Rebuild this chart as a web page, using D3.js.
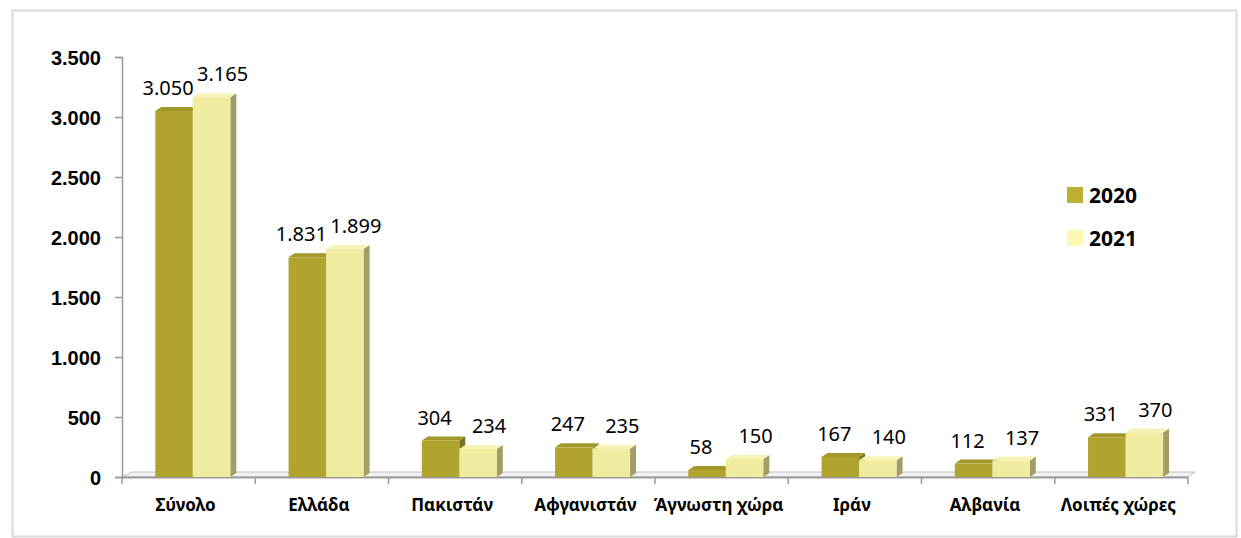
<!DOCTYPE html>
<html lang="el">
<head>
<meta charset="utf-8">
<title>2020 - 2021</title>
<script src="https://cdn.jsdelivr.net/npm/d3@7"></script>
<style>
  body { margin: 0; background: #fff; }
  svg { display: block; font-family: "Noto Sans", "DejaVu Sans", sans-serif; }
  .val { font-size: 20px; fill: #000; }
  .cat { font-size: 17px; font-weight: bold; fill: #000; }
  .ytick text { font-size: 20px; font-weight: bold; fill: #000; }
</style>
</head>
<body>
<div id="chart"></div>
<script>
// data
var categories = ["Σύνολο", "Ελλάδα", "Πακιστάν", "Αφγανιστάν", "Άγνωστη χώρα", "Ιράν", "Αλβανία", "Λοιπές χώρες"];
var years = ["2020", "2021"];
var values2020 = [3050, 1831, 304, 247, 58, 167, 112, 331];
var values2021 = [3165, 1899, 234, 235, 150, 140, 137, 370];
var yTicks = [0, 500, 1000, 1500, 2000, 2500, 3000, 3500];

var series = { "2020": values2020, "2021": values2021 };
var front = { "2020": "#b0a42e", "2021": "#efec9f" };
var topC = { "2020": "#a29729", "2021": "#f6f3b8" };
var side = { "2020": "#7c7321", "2021": "#a19d66" };
var legendC = { "2020": "#bbaf34", "2021": "#faf8b1" };

var W = 1241, H = 538;
var dx = 6, dy = -4; // 3d depth

var fmt = function (d) { return d3.format(",")(d).replace(/,/g, "."); };

var svg = d3.select("#chart").append("svg")
  .attr("width", W).attr("height", H);

// outer frame
svg.append("rect")
  .attr("x", 12.5).attr("y", 10.5)
  .attr("width", 1224).attr("height", 526)
  .attr("fill", "#fff")
  .attr("stroke", "#d9d9d9").attr("stroke-width", 2);

var y = d3.scaleLinear().domain([0, 3500]).range([477, 57]);
var x0 = d3.scaleBand().domain(categories).range([122, 1188]);
var x1 = d3.scaleBand().domain(years).range([0, 75]);
var groupOff = x0.bandwidth() * 0.25;

// floor
var fl = x0.range()[0], fr = x0.range()[1];
svg.append("path")
  .attr("d", "M" + fl + "," + y(0) + "L" + (fl + dx + 4) + "," + (y(0) + dy - 1) +
    "L" + (fr + dx + 1) + "," + (y(0) + dy - 1) + "L" + fr + "," + y(0) + "Z")
  .attr("fill", "#f2f2f2").attr("stroke", "#bfbfbf").attr("stroke-width", 1);
svg.append("line")
  .attr("x1", fl).attr("x2", fr)
  .attr("y1", y(0) + 0.5).attr("y2", y(0) + 0.5)
  .attr("stroke", "#9a9a9a").attr("stroke-width", 2);

// y axis
var yAxis = svg.append("g").attr("class", "ytick")
  .attr("transform", "translate(122,0)")
  .call(d3.axisLeft(y).tickValues(yTicks).tickSize(7).tickPadding(14).tickFormat(fmt));
yAxis.select(".domain").attr("stroke", "#9a9a9a").attr("stroke-width", 1.5);
yAxis.selectAll(".tick line").attr("stroke", "#9a9a9a").attr("stroke-width", 1.5);
yAxis.selectAll(".tick text").attr("dy", "0.35em");

// x ticks at category boundaries
svg.append("g").selectAll("line")
  .data(categories.concat(["end"]))
  .join("line")
  .attr("x1", function (d, i) { return i < categories.length ? x0(d) : fr; })
  .attr("x2", function (d, i) { return i < categories.length ? x0(d) : fr; })
  .attr("y1", y(0)).attr("y2", y(0) + 7)
  .attr("stroke", "#9a9a9a").attr("stroke-width", 1.5);

// bars
var bars = [];
categories.forEach(function (c, i) {
  years.forEach(function (yr) {
    bars.push({ cat: c, year: yr, value: series[yr][i] });
  });
});
var bw = x1.bandwidth();
var bg = svg.append("g").selectAll("g").data(bars).join("g");
bg.each(function (d) {
  var g = d3.select(this);
  var xl = x0(d.cat) + groupOff + x1(d.year);
  var yt = y(d.value), yb = y(0);
  // side
  g.append("path")
    .attr("d", "M" + (xl + bw) + "," + yb + "L" + (xl + bw + dx) + "," + (yb + dy) +
      "L" + (xl + bw + dx) + "," + (yt + dy) + "L" + (xl + bw) + "," + yt + "Z")
    .attr("fill", side[d.year]);
  // top
  g.append("path")
    .attr("d", "M" + xl + "," + yt + "L" + (xl + dx) + "," + (yt + dy) +
      "L" + (xl + bw + dx) + "," + (yt + dy) + "L" + (xl + bw) + "," + yt + "Z")
    .attr("fill", topC[d.year]);
  // front
  g.append("rect")
    .attr("x", xl).attr("y", yt)
    .attr("width", bw).attr("height", yb - yt)
    .attr("fill", front[d.year]);
  // value label
  g.append("text").attr("class", "val")
    .attr("x", xl + bw / 2 + (d.year === "2021" ? 11 : -6))
    .attr("y", yt - 16)
    .attr("text-anchor", "middle")
    .text(fmt(d.value));
});

// category labels
svg.append("g").selectAll("text")
  .data(categories).join("text")
  .attr("class", "cat")
  .attr("x", function (d) { return x0(d) + x0.bandwidth() / 2 - 3; })
  .attr("y", 511)
  .attr("text-anchor", "middle")
  .text(function (d) { return d; });

// legend
var lg = svg.append("g").selectAll("g").data(years).join("g")
  .attr("transform", function (d, i) { return "translate(1067," + (187 + i * 43) + ")"; });
lg.append("rect").attr("width", 16).attr("height", 16)
  .attr("fill", function (d) { return legendC[d]; });
lg.append("text")
  .attr("x", 22).attr("y", 16)
  .attr("font-size", 21).attr("font-weight", "bold")
  .text(function (d) { return d; });
</script>
</body>
</html>
